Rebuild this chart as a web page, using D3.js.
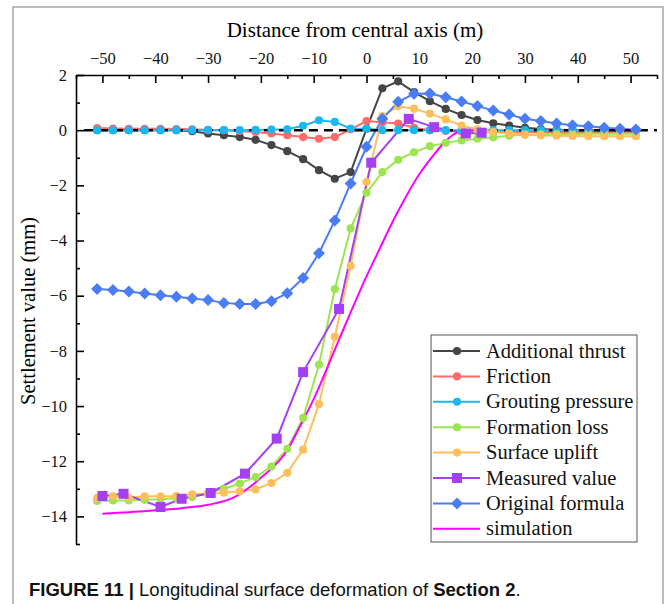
<!DOCTYPE html>
<html>
<head>
<meta charset="utf-8">
<script src="https://cdn.jsdelivr.net/npm/d3@7"></script>
<style>
  body { margin: 0; background: #fff; }
</style>
</head>
<body>
<div id="chart"></div>
<script>
// distance from central axis (m) for the computed curves
const xs = [-51, -48, -45, -42, -39, -36, -33, -30, -27, -24, -21, -18, -15, -12, -9, -6, -3, 0,
            3, 6, 9, 12, 15, 18, 21, 24, 27, 30, 33, 36, 39, 42, 45, 48, 51];

const additionalThrust = [0, 0, 0, 0, 0, 0, -0.04, -0.12, -0.18, -0.25, -0.35, -0.54, -0.76, -1.05, -1.45, -1.76, -1.52, 0.05,
                          1.52, 1.77, 1.38, 1.05, 0.77, 0.55, 0.37, 0.25, 0.17, 0.09, 0.04, 0.02, 0, 0, 0, 0, 0];
const friction = [0.08, 0.06, 0.05, 0.05, 0.05, 0.04, 0.03, 0.01, 0, -0.03, -0.07, -0.12, -0.18, -0.25, -0.31, -0.25, 0.03, 0.33,
                  0.29, 0.24, 0.09, 0, -0.03, -0.05, -0.05, -0.06, -0.06, -0.07, -0.07, -0.07, -0.07, -0.07, -0.07, -0.07, -0.07];
const groutingPressure = [0, 0, 0, 0, 0, 0, 0, 0, 0, 0, 0.01, 0.02, 0.03, 0.16, 0.36, 0.3, 0.06, 0.05,
                          0, 0, 0, 0, 0, 0, 0, 0, 0, 0, 0, 0, 0, 0, 0, 0, 0];
const formationLoss = [-13.44, -13.42, -13.42, -13.4, -13.38, -13.33, -13.3, -13.15, -13.0, -12.81, -12.57, -12.19, -11.55, -10.43, -8.5, -5.76, -3.56, -2.27,
                       -1.52, -1.07, -0.8, -0.58, -0.46, -0.37, -0.31, -0.26, -0.2, -0.17, -0.15, -0.14, -0.14, -0.13, -0.13, -0.13, -0.13];
const surfaceUplift = [-13.33, -13.27, -13.32, -13.27, -13.27, -13.26, -13.2, -13.18, -13.14, -13.09, -13.02, -12.79, -12.42, -11.58, -9.93, -7.49, -4.92, -1.88,
                       0.51, 0.87, 0.78, 0.6, 0.39, 0.17, 0.03, -0.06, -0.12, -0.16, -0.19, -0.2, -0.21, -0.22, -0.22, -0.22, -0.22];
const originalFormula = [-5.76, -5.79, -5.85, -5.92, -5.98, -6.04, -6.1, -6.16, -6.26, -6.3, -6.3, -6.2, -5.91, -5.36, -4.46, -3.27, -1.93, -0.6,
                         0.41, 1.03, 1.32, 1.33, 1.19, 1.04, 0.88, 0.71, 0.57, 0.41, 0.33, 0.24, 0.18, 0.14, 0.09, 0.05, 0.02];

// measured points
const measuredX = [-50, -46, -39, -35, -29.5, -23, -17, -12, -5.2, 0.9, 8, 12.8, 18.8, 21.8];
const measuredY = [-13.26, -13.18, -13.66, -13.36, -13.15, -12.45, -11.18, -8.77, -6.48, -1.18, 0.41, 0.11, -0.12, -0.09];

// simulation curve
const simX = [-50, -45, -40, -35, -30, -25, -20, -15, -12.5, -10, -5, 0, 2.5, 5, 7.5, 10, 12.5, 14, 15.5, 17, 18.5, 21];
const simY = [-13.9, -13.85, -13.78, -13.7, -13.58, -13.3, -12.6, -11.6, -10.7, -9.75, -7.5, -5.3, -4.3, -3.3, -2.4, -1.6, -0.95, -0.6, -0.3, -0.1, -0.02, 0];

const xTicks = [-50, -40, -30, -20, -10, 0, 10, 20, 30, 40, 50];
const xMinor = [-55, -45, -35, -25, -15, -5, 5, 15, 25, 35, 45, 55];
const yTicks = [2, 0, -2, -4, -6, -8, -10, -12, -14];
const yMinor = [1, -1, -3, -5, -7, -9, -11, -13, -15];

const width = 666, height = 604;
const serif = "'Liberation Serif', 'Times New Roman', serif";

const svg = d3.select("#chart").append("svg")
    .attr("width", width)
    .attr("height", height)

const x = d3.scaleLinear().domain([-55, 55]).range([76, 657]);
const y = d3.scaleLinear().domain([-15, 2]).range([544, 75]);

// outer frame of the figure
svg.append("rect")
    .attr("x", 13).attr("y", 7)
    .attr("width", 650).attr("height", 640)
    .attr("fill", "none")
    .attr("stroke", "#a6a6a6")
    .attr("stroke-width", 1.5)

const series = [
    { name: "Additional thrust", color: "#454545", xv: xs, yv: additionalThrust, marker: "circle" },
    { name: "Friction", color: "#ff6b6b", xv: xs, yv: friction, marker: "circle" },
    { name: "Grouting pressure", color: "#18b8f2", xv: xs, yv: groutingPressure, marker: "circle" },
    { name: "Formation loss", color: "#9de550", xv: xs, yv: formationLoss, marker: "circle" },
    { name: "Surface uplift", color: "#ffbe5c", xv: xs, yv: surfaceUplift, marker: "circle" },
    { name: "Measured value", color: "#a53ff2", xv: measuredX, yv: measuredY, marker: "square" },
    { name: "Original formula", color: "#4a7cf6", xv: xs, yv: originalFormula, marker: "diamond" },
    { name: "simulation", color: "#ff00ff", xv: simX, yv: simY, marker: null, curve: d3.curveMonotoneX }
];

function markerPath(type) {
    if (type === "circle") return d3.symbol(d3.symbolCircle, 52)();
    if (type === "square") return d3.symbol(d3.symbolSquare, 100)();
    return d3.symbol(d3.symbolSquare, 72)();
}

// lines
const lineG = svg.append("g");
series.forEach(s => {
    const pts = s.xv.map((v, i) => [v, s.yv[i]]);
    lineG.append("path")
        .datum(pts)
        .attr("fill", "none")
        .attr("stroke", s.color)
        .attr("stroke-width", 2)
        .attr("d", d3.line().x(d => x(d[0])).y(d => y(d[1])).curve(s.curve || d3.curveLinear));
});

// zero reference
svg.append("line")
    .attr("x1", x(-53.5)).attr("x2", x(55))
    .attr("y1", y(0)).attr("y2", y(0))
    .attr("stroke", "#000")
    .attr("stroke-width", 2.5)
    .attr("stroke-dasharray", "9,6")

// markers
const markG = svg.append("g");
series.forEach(s => {
    if (!s.marker) return;
    const pts = s.xv.map((v, i) => [v, s.yv[i]]);
    markG.append("g").selectAll("path")
        .data(pts)
        .join("path")
        .attr("d", markerPath(s.marker))
        .attr("fill", s.color)
        .attr("transform", d => `translate(${x(d[0])},${y(d[1])})` + (s.marker === "diamond" ? " rotate(45)" : ""));
});

// axes
const xAxisG = svg.append("g")
    .attr("transform", `translate(0,${y(2)})`)
    .call(d3.axisTop(x).tickValues(xTicks).tickSizeInner(-8).tickSizeOuter(0).tickPadding(11))
svg.append("g")
    .attr("transform", `translate(0,${y(2)})`)
    .call(d3.axisTop(x).tickValues(xMinor).tickSizeInner(-4).tickSizeOuter(0).tickFormat(""))
    .call(g => g.select(".domain").remove())

const yAxisG = svg.append("g")
    .attr("transform", `translate(${x(-55)},0)`)
    .call(d3.axisLeft(y).tickValues(yTicks).tickSizeInner(-8).tickSizeOuter(0).tickPadding(9))
svg.append("g")
    .attr("transform", `translate(${x(-55)},0)`)
    .call(d3.axisLeft(y).tickValues(yMinor).tickSizeInner(-4).tickSizeOuter(0).tickFormat(""))
    .call(g => g.select(".domain").remove())

svg.selectAll(".domain").attr("stroke-width", 1.6);
svg.selectAll(".tick line").attr("stroke-width", 1.6);
svg.selectAll(".tick text")
    .attr("font-family", serif)
    .attr("font-size", 16.5)
    .attr("fill", "#111")

// axis titles
svg.append("text")
    .attr("x", 355).attr("y", 37)
    .attr("text-anchor", "middle")
    .attr("font-family", serif)
    .attr("font-size", 21)
    .text("Distance from central axis (m)")

svg.append("text")
    .attr("transform", "translate(35,311) rotate(-90)")
    .attr("text-anchor", "middle")
    .attr("font-family", serif)
    .attr("font-size", 20.5)
    .text("Settlement value (mm)")

// legend
const legend = svg.append("g");
legend.append("rect")
    .attr("x", 431).attr("y", 335)
    .attr("width", 206).attr("height", 207)
    .attr("fill", "#fff")
    .attr("stroke", "#555")
    .attr("stroke-width", 1)

series.forEach((s, i) => {
    const ly = 351 + i * 25.4;
    legend.append("line")
        .attr("x1", 433).attr("x2", 480)
        .attr("y1", ly).attr("y2", ly)
        .attr("stroke", s.color)
        .attr("stroke-width", 2)
    if (s.marker) {
        legend.append("path")
            .attr("d", markerPath(s.marker))
            .attr("fill", s.color)
            .attr("transform", `translate(457,${ly})` + (s.marker === "diamond" ? " rotate(45)" : ""))
    }
    legend.append("text")
        .attr("x", 486).attr("y", ly + 6.5)
        .attr("font-family", serif)
        .attr("font-size", 20.5)
        .attr("fill", "#111")
        .text(s.name)
});

// caption
const cap = svg.append("text")
    .attr("x", 29).attr("y", 596)
    .attr("font-family", "'Liberation Sans', Arial, sans-serif")
    .attr("font-size", 18.5)
    .attr("fill", "#111")
cap.append("tspan").attr("font-weight", "bold").text("FIGURE 11 ");
cap.append("tspan").attr("font-weight", "bold").text("| ");
cap.append("tspan").text("Longitudinal surface deformation of ");
cap.append("tspan").attr("font-weight", "bold").text("Section 2");
cap.append("tspan").text(".");
</script>
</body>
</html>
